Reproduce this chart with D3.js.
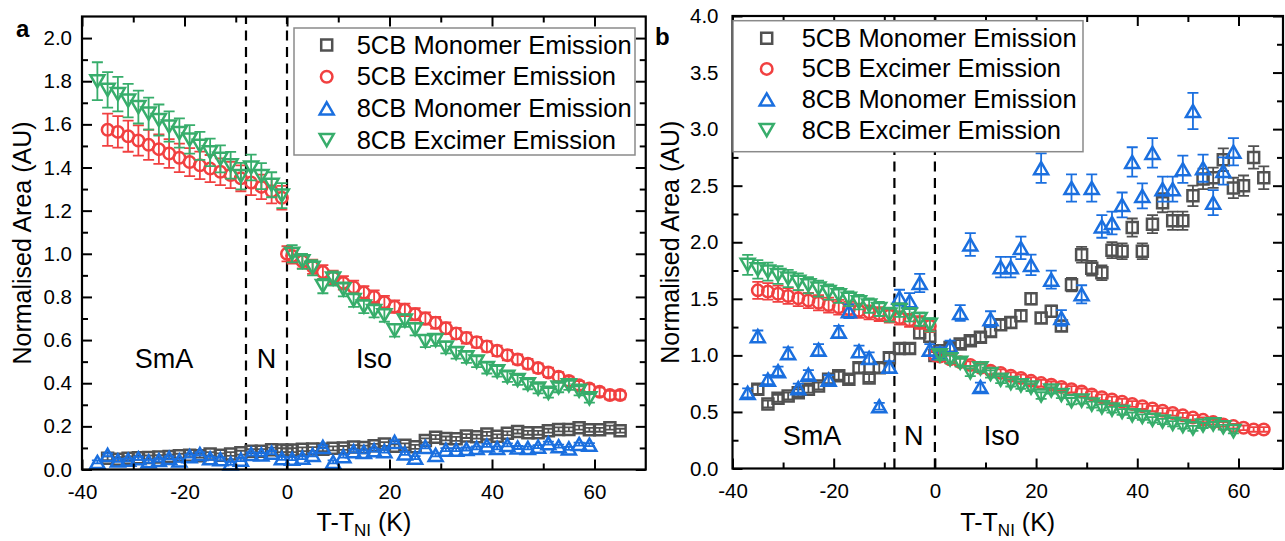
<!DOCTYPE html>
<html>
<head>
<meta charset="utf-8">
<script src="https://cdn.jsdelivr.net/npm/d3@7"></script>
<style>
  body { margin: 0; background: #fff; }
  svg { display: block; }
</style>
</head>
<body>
<svg id="chart" width="1285" height="541"></svg>
<script>
// ---- data ----
var seriesNames = ["5CB Monomer Emission", "5CB Excimer Emission", "8CB Monomer Emission", "8CB Excimer Emission"];
var seriesColors = ["#515151", "#F14040", "#1A6FDF", "#37AD6B"];
var phaseLabels = ["SmA", "N", "Iso"];
var phaseBounds = [-8, 0];
var xMajor = [-40, -20, 0, 20, 40, 60];
var xMinor = [-30, -10, 10, 30, 50];
var yMajorA = [0, 0.2, 0.4, 0.6, 0.8, 1.0, 1.2, 1.4, 1.6, 1.8, 2.0];
var yMinorA = [0.1, 0.3, 0.5, 0.7, 0.9, 1.1, 1.3, 1.5, 1.7, 1.9];
var yMajorB = [0, 0.5, 1.0, 1.5, 2.0, 2.5, 3.0, 3.5, 4.0];
var yMinorB = [0.25, 0.75, 1.25, 1.75, 2.25, 2.75, 3.25, 3.75];

// temperatures T-T_NI (K)
var t5Pre = [-35, -33, -31, -29, -27, -25, -23, -21, -19, -17, -15, -13, -11, -9, -7, -5, -3, -1];
var t5Iso = [0, 1, 3, 5, 7, 9, 11, 13, 15, 17, 19, 21, 23, 25, 27, 29, 31, 33, 35, 37, 39, 41, 43, 45, 47, 49, 51, 53, 55, 57, 59, 61, 63, 65];
var t8Pre = [-37, -35, -33, -31, -29, -27, -25, -23, -21, -19, -17, -15, -13, -11, -9, -7, -5, -3, -1];
var t8Iso = [1, 3, 5, 7, 9, 11, 13, 15, 17, 19, 21, 23, 25, 27, 29, 31, 33, 35, 37, 39, 41, 43, 45, 47, 49, 51, 53, 55, 57, 59];

// 5CB excimer (both panels)
var exc5Pre = [1.575, 1.565, 1.545, 1.525, 1.505, 1.485, 1.465, 1.445, 1.425, 1.41, 1.395, 1.38, 1.365, 1.35, 1.33, 1.31, 1.29, 1.26];
var exc5PreErr = [0.075, 0.073, 0.072, 0.07, 0.07, 0.068, 0.067, 0.066, 0.065, 0.064, 0.063, 0.062, 0.061, 0.06, 0.058, 0.057, 0.056, 0.055];
var exc5Iso = [1.00, 0.99, 0.965, 0.94, 0.915, 0.89, 0.865, 0.845, 0.82, 0.80, 0.775, 0.755, 0.74, 0.72, 0.70, 0.68, 0.655, 0.63, 0.61, 0.59, 0.57, 0.55, 0.53, 0.51, 0.49, 0.47, 0.45, 0.43, 0.41, 0.39, 0.375, 0.36, 0.345, 0.345];
var exc5IsoErr = [0.035, 0.035, 0.033, 0.033, 0.032, 0.032, 0.031, 0.031, 0.03, 0.03, 0.03, 0.029, 0.029, 0.028, 0.028, 0.027, 0.027, 0.026, 0.026, 0.025, 0.025, 0.024, 0.024, 0.023, 0.023, 0.022, 0.022, 0.021, 0.021, 0.02, 0.02, 0.02, 0.02, 0.02];

// 8CB excimer (both panels)
var exc8Pre = [1.80, 1.76, 1.74, 1.71, 1.68, 1.65, 1.62, 1.59, 1.56, 1.53, 1.50, 1.47, 1.44, 1.41, 1.36, 1.40, 1.36, 1.32, 1.27];
var exc8PreErr = [0.088, 0.082, 0.08, 0.078, 0.076, 0.074, 0.072, 0.07, 0.068, 0.066, 0.065, 0.064, 0.063, 0.062, 0.061, 0.06, 0.06, 0.058, 0.058];
var exc8Iso = [1.00, 0.965, 0.935, 0.85, 0.885, 0.835, 0.785, 0.755, 0.735, 0.715, 0.645, 0.69, 0.65, 0.595, 0.60, 0.565, 0.54, 0.52, 0.50, 0.47, 0.455, 0.43, 0.415, 0.395, 0.375, 0.355, 0.38, 0.39, 0.365, 0.33];
var exc8IsoErr = [0.04, 0.035, 0.035, 0.033, 0.033, 0.032, 0.031, 0.03, 0.03, 0.03, 0.029, 0.029, 0.028, 0.028, 0.027, 0.027, 0.026, 0.026, 0.025, 0.025, 0.024, 0.024, 0.023, 0.023, 0.022, 0.022, 0.022, 0.021, 0.021, 0.02];

// monomers, panel a normalisation
var mono5APre = [0.052, 0.048, 0.052, 0.054, 0.056, 0.058, 0.060, 0.064, 0.066, 0.064, 0.072, 0.066, 0.072, 0.078, 0.085, 0.085, 0.092, 0.090];
var mono5AIso = [0.088, 0.090, 0.094, 0.095, 0.094, 0.098, 0.100, 0.104, 0.102, 0.110, 0.118, 0.108, 0.112, 0.105, 0.135, 0.150, 0.144, 0.142, 0.155, 0.152, 0.165, 0.154, 0.168, 0.176, 0.170, 0.170, 0.180, 0.186, 0.186, 0.194, 0.184, 0.184, 0.194, 0.180];
var mono5AErr = 0.009;
var mono8APre = [0.035, 0.068, 0.042, 0.045, 0.052, 0.038, 0.044, 0.054, 0.042, 0.062, 0.072, 0.052, 0.048, 0.028, 0.046, 0.072, 0.070, 0.078, 0.052];
var mono8AIso = [0.050, 0.055, 0.068, 0.105, 0.035, 0.062, 0.085, 0.082, 0.090, 0.085, 0.128, 0.075, 0.055, 0.105, 0.068, 0.092, 0.092, 0.095, 0.100, 0.112, 0.100, 0.114, 0.102, 0.100, 0.106, 0.122, 0.108, 0.098, 0.118, 0.115];
var mono8AErr = 0.007;

// monomers, panel b normalisation
var mono5BPre = [0.70, 0.57, 0.62, 0.64, 0.67, 0.70, 0.73, 0.79, 0.82, 0.79, 0.89, 0.80, 0.89, 0.98, 1.06, 1.06, 1.20, 1.17];
var mono5BPreErr = [0.04, 0.03, 0.03, 0.03, 0.03, 0.03, 0.03, 0.035, 0.035, 0.035, 0.04, 0.035, 0.04, 0.04, 0.04, 0.04, 0.05, 0.05];
var mono5BIso = [1.00, 1.04, 1.07, 1.10, 1.13, 1.16, 1.21, 1.27, 1.29, 1.35, 1.50, 1.33, 1.39, 1.26, 1.625, 1.89, 1.77, 1.73, 1.93, 1.92, 2.13, 1.92, 2.16, 2.35, 2.19, 2.19, 2.41, 2.56, 2.57, 2.73, 2.48, 2.50, 2.75, 2.57];
var mono5BIsoErr = [0.03, 0.03, 0.035, 0.035, 0.035, 0.04, 0.04, 0.045, 0.045, 0.045, 0.05, 0.045, 0.05, 0.045, 0.06, 0.07, 0.065, 0.065, 0.07, 0.07, 0.08, 0.07, 0.08, 0.085, 0.08, 0.08, 0.09, 0.09, 0.09, 0.1, 0.09, 0.09, 0.1, 0.1];
var mono8BPre = [0.668, 1.17, 0.786, 0.86, 1.02, 0.71, 0.83, 1.05, 0.786, 1.21, 1.39, 1.036, 0.977, 0.55, 0.90, 1.51, 1.48, 1.64, 1.05];
var mono8BPreErr = [0.04, 0.05, 0.04, 0.04, 0.05, 0.04, 0.04, 0.05, 0.04, 0.05, 0.06, 0.05, 0.05, 0.03, 0.05, 0.07, 0.07, 0.08, 0.05];
var mono8BIso = [1.02, 1.08, 1.375, 1.98, 0.72, 1.32, 1.78, 1.78, 1.95, 1.80, 2.655, 1.67, 1.33, 2.48, 1.54, 2.48, 2.14, 2.17, 2.33, 2.71, 2.41, 2.79, 2.47, 2.47, 2.645, 3.16, 2.655, 2.35, 2.63, 2.80];
var mono8BIsoErr = [0.05, 0.05, 0.07, 0.1, 0.04, 0.07, 0.09, 0.09, 0.1, 0.09, 0.13, 0.08, 0.07, 0.12, 0.08, 0.12, 0.1, 0.1, 0.11, 0.13, 0.11, 0.13, 0.11, 0.11, 0.12, 0.16, 0.12, 0.11, 0.12, 0.12];

// ---- style ----
var FONT = "'Liberation Sans', Arial, Helvetica, sans-serif";
var symbolTypes = [d3.symbolSquare, d3.symbolCircle, d3.symbolTriangle, d3.symbolTriangle];
var symbolSizes = [121, 104, 85, 85];
var symbolFlip = [false, false, false, true];

var panels = [
    {
        letter: "a", letterX: 16, letterY: 37,
        xRange: [82, 645.75], xDomain: [-40, 70],
        yRange: [469.5, 16.5], yDomain: [0, 2.1],
        yMajor: yMajorA, yMinor: yMinorA, yPad: 10, yTitleX: 31,
        legend: {x: 294, y: 28, w: 341, h: 127, row0: 45, dy: 31.7, sx: 326.7, tx: 356.7},
        phaseX: [-24, -4, 17], phaseY: 0.47,
        series: [
            {x: t5Pre.concat(t5Iso), y: mono5APre.concat(mono5AIso), e: mono5AErr},
            {x: t5Pre.concat(t5Iso), y: exc5Pre.concat(exc5Iso), e: exc5PreErr.concat(exc5IsoErr)},
            {x: t8Pre.concat(t8Iso), y: mono8APre.concat(mono8AIso), e: mono8AErr},
            {x: t8Pre.concat(t8Iso), y: exc8Pre.concat(exc8Iso), e: exc8PreErr.concat(exc8IsoErr)}
        ]
    },
    {
        letter: "b", letterX: 655, letterY: 45,
        xRange: [732.5, 1283], xDomain: [-40, 68.8],
        yRange: [468.5, 16], yDomain: [0, 4],
        yMajor: yMajorB, yMinor: yMinorB, yPad: 14, yTitleX: 679,
        legend: {x: 733, y: 20.7, w: 350, h: 131, row0: 38.3, dy: 30.6, sx: 766.7, tx: 801.7},
        phaseX: [-24.3, -4.2, 13.2], phaseY: 0.21,
        series: [
            {x: t5Pre.concat(t5Iso), y: mono5BPre.concat(mono5BIso), e: mono5BPreErr.concat(mono5BIsoErr)},
            {x: t5Pre.concat(t5Iso), y: exc5Pre.concat(exc5Iso), e: exc5PreErr.concat(exc5IsoErr)},
            {x: t8Pre.concat(t8Iso), y: mono8BPre.concat(mono8BIso), e: mono8BPreErr.concat(mono8BIsoErr)},
            {x: t8Pre.concat(t8Iso), y: exc8Pre.concat(exc8Iso), e: exc8PreErr.concat(exc8IsoErr)}
        ]
    }
];

var svg = d3.select("#chart").attr("font-family", FONT);

function symbolPath(i) {
    return d3.symbol().type(symbolTypes[i]).size(symbolSizes[i])();
}

function symbolTransform(i, px, py) {
    if (symbolTypes[i] !== d3.symbolTriangle) return `translate(${px},${py})`;
    // centre the triangle's box on the point, not its centroid
    var off = Math.sqrt(symbolSizes[i] / (Math.sqrt(3) * 3)) / 2;
    if (symbolFlip[i]) return `translate(${px},${py - off}) rotate(180)`;
    return `translate(${px},${py + off})`;
}

function styleAxis(sel) {
    sel.select(".domain").remove();
    sel.selectAll(".tick line").attr("stroke", "#000").attr("stroke-width", 2);
    sel.selectAll(".tick text").attr("fill", "#000");
    sel.attr("font-family", FONT);
}

function drawPanel(p) {
    var g = svg.append("g");
    var x = d3.scaleLinear().domain(p.xDomain).range(p.xRange);
    var y = d3.scaleLinear().domain(p.yDomain).range(p.yRange);
    var left = p.xRange[0], right = p.xRange[1], bottom = p.yRange[0], top = p.yRange[1];

    // phase boundaries
    g.selectAll("line.phase")
        .data(phaseBounds)
        .join("line")
        .attr("class", "phase")
        .attr("x1", d => x(d)).attr("x2", d => x(d))
        .attr("y1", bottom).attr("y2", top)
        .attr("stroke", "#000")
        .attr("stroke-width", 2.2)
        .attr("stroke-dasharray", "10,6.5");

    // series: error bars then symbols
    var cap = 5.5;
    p.series.forEach((s, i) => {
        var pts = s.x.map((tx, k) => ({x: tx, y: s.y[k], e: Array.isArray(s.e) ? s.e[k] : s.e}));
        var sg = g.append("g");
        sg.selectAll("path.err")
            .data(pts)
            .join("path")
            .attr("class", "err")
            .attr("d", d => {
                var px = x(d.x), y1 = y(d.y + d.e), y2 = y(d.y - d.e);
                return `M${px - cap},${y1}H${px + cap}M${px},${y1}V${y2}M${px - cap},${y2}H${px + cap}`;
            })
            .attr("fill", "none")
            .attr("stroke", seriesColors[i])
            .attr("stroke-width", 1.8);
        sg.selectAll("path.sym")
            .data(pts)
            .join("path")
            .attr("class", "sym")
            .attr("d", symbolPath(i))
            .attr("transform", d => symbolTransform(i, x(d.x), y(d.y)))
            .attr("fill", "none")
            .attr("stroke", seriesColors[i])
            .attr("stroke-width", 2.5);
    });

    // axes, ticks inward on all four sides
    var fmtX = d => String(d);
    g.append("g").attr("transform", `translate(0,${bottom})`)
        .call(d3.axisBottom(x).tickValues(xMajor).tickSize(-10).tickPadding(15).tickFormat(fmtX))
        .attr("font-size", 20.5).call(styleAxis);
    g.append("g").attr("transform", `translate(0,${bottom})`)
        .call(d3.axisBottom(x).tickValues(xMinor).tickSize(-6).tickFormat(""))
        .call(styleAxis);
    g.append("g").attr("transform", `translate(0,${top})`)
        .call(d3.axisTop(x).tickValues(xMajor).tickSize(-10).tickFormat(""))
        .call(styleAxis);
    g.append("g").attr("transform", `translate(0,${top})`)
        .call(d3.axisTop(x).tickValues(xMinor).tickSize(-6).tickFormat(""))
        .call(styleAxis);
    g.append("g").attr("transform", `translate(${left},0)`)
        .call(d3.axisLeft(y).tickValues(p.yMajor).tickSize(-10).tickPadding(p.yPad).tickFormat(d3.format(".1f")))
        .attr("font-size", 20.5).call(styleAxis);
    g.append("g").attr("transform", `translate(${left},0)`)
        .call(d3.axisLeft(y).tickValues(p.yMinor).tickSize(-6).tickFormat(""))
        .call(styleAxis);
    g.append("g").attr("transform", `translate(${right},0)`)
        .call(d3.axisRight(y).tickValues(p.yMajor).tickSize(-10).tickFormat(""))
        .call(styleAxis);
    g.append("g").attr("transform", `translate(${right},0)`)
        .call(d3.axisRight(y).tickValues(p.yMinor).tickSize(-6).tickFormat(""))
        .call(styleAxis);

    g.append("rect")
        .attr("x", left).attr("y", top)
        .attr("width", right - left).attr("height", bottom - top)
        .attr("fill", "none").attr("stroke", "#000").attr("stroke-width", 2.2);

    // phase labels
    g.selectAll("text.phaseLabel")
        .data(phaseLabels)
        .join("text")
        .attr("class", "phaseLabel")
        .attr("x", (d, k) => x(p.phaseX[k]))
        .attr("y", y(p.phaseY))
        .attr("text-anchor", "middle")
        .attr("font-size", 27)
        .text(d => d);

    // axis titles
    g.append("text")
        .attr("transform", `translate(${p.yTitleX},${(top + bottom) / 2}) rotate(-90)`)
        .attr("text-anchor", "middle")
        .attr("font-size", 25)
        .text("Normalised Area (AU)");
    var xt = g.append("text")
        .attr("x", (left + right) / 2).attr("y", 531)
        .attr("text-anchor", "middle")
        .attr("font-size", 25);
    xt.append("tspan").text("T-T");
    xt.append("tspan").attr("font-size", 17).attr("dy", 5).text("NI");
    xt.append("tspan").attr("dy", -5).text(" (K)");

    // panel letter
    g.append("text")
        .attr("x", p.letterX).attr("y", p.letterY)
        .attr("font-size", 24).attr("font-weight", "bold")
        .text(p.letter);

    // legend
    var L = p.legend;
    var lg = g.append("g");
    lg.append("rect")
        .attr("x", L.x).attr("y", L.y).attr("width", L.w).attr("height", L.h)
        .attr("fill", "#fff").attr("stroke", "#8a8a8a").attr("stroke-width", 1.5);
    var rows = lg.selectAll("g.row")
        .data(seriesNames)
        .join("g")
        .attr("class", "row");
    rows.append("path")
        .attr("d", (d, i) => symbolPath(i))
        .attr("transform", (d, i) => symbolTransform(i, L.sx, L.row0 + i * L.dy))
        .attr("fill", "none")
        .attr("stroke", (d, i) => seriesColors[i])
        .attr("stroke-width", 2.5);
    rows.append("text")
        .attr("x", L.tx)
        .attr("y", (d, i) => L.row0 + i * L.dy + 8.5)
        .attr("font-size", 25.5)
        .text(d => d);
}

panels.forEach(drawPanel);
</script>
</body>
</html>
